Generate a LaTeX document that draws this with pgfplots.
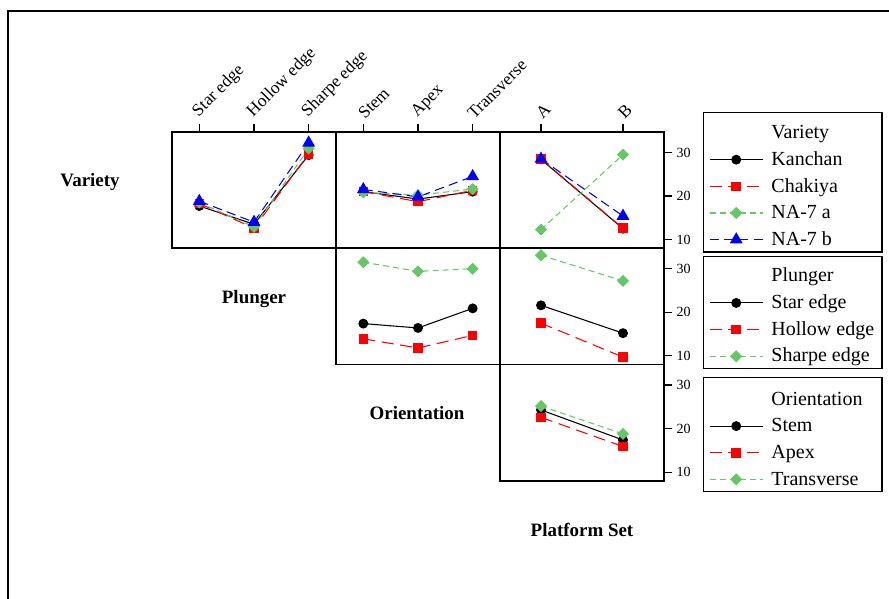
\documentclass[border=0pt]{standalone}
\usepackage{fontspec}
\setmainfont{Liberation Serif}
\usepackage{pgfplots}
\pgfplotsset{compat=1.18}
\definecolor{mgreen}{RGB}{100,200,100}
\pgfplotsset{
  panel/.style={scale only axis, width=123pt, height=87.2pt, anchor=north west,
    ymin=8, ymax=34.7, axis line style={line width=1.2pt},
    tick style={line width=1pt, black}, major tick length=6pt, tick align=outside,
    xtick=\empty, ytick=\empty,
    font=\fontsize{10.5}{12}\selectfont,
    /pgf/number format/assume math mode=true,
    legend image code/.code={\draw[mark repeat=2,mark phase=2] plot coordinates {(0pt,0pt) (20pt,0pt) (40pt,0pt)};},
    legend cell align=left,
    legend style={draw=black, line width=1pt, anchor=north west,
      font=\fontsize{15}{17}\selectfont,
      nodes={inner sep=1pt, text height=11pt, text depth=2.5pt},
      row sep=4.5pt, column sep=5pt, inner xsep=4pt, inner ysep=1.5pt}},
  topx/.style={xtick pos=right, xticklabel pos=right,
    xticklabel style={rotate=45, anchor=south west, inner sep=1pt, xshift=2pt,
      font=\fontsize{13}{15}\selectfont}},
  righty/.style={ytick={10,20,30}, ytick pos=right, yticklabel pos=right},
  sK/.style={black, solid, line width=0.8pt, mark=*, mark size=3.3pt},
  sC/.style={red, dash pattern=on 9pt off 5pt, line width=0.8pt, mark=square*, mark size=3.2pt, mark options={solid}},
  sG/.style={mgreen, dash pattern=on 4.5pt off 3pt, line width=0.8pt, mark=square*, mark size=2.8pt, mark options={solid, rotate=45}},
  sB/.style={blue, dash pattern=on 7pt off 4pt, line width=0.8pt, mark=triangle*, mark size=4.8pt, mark options={solid}},
}
\begin{document}
\begin{tikzpicture}
\useasboundingbox (0,0) rectangle (666.75pt,-449.25pt);
\draw[line width=1.5pt] (6pt,-449.25pt) -- (6pt,-8.25pt) -- (666.75pt,-8.25pt);

% Row 1, col 1: Variety lines vs Plunger
\begin{axis}[panel, topx, at={(129pt,-99pt)}, xmin=0.5, xmax=3.5,
  xtick={1,2,3}, xticklabels={Star edge, Hollow edge, Sharpe edge}]
\addplot[sK] coordinates {(1,17.7) (2,13.5) (3,29.4)};
\addplot[sC] coordinates {(1,18.3) (2,12.6) (3,29.7)};
\addplot[sG] coordinates {(1,18.5) (2,12.9) (3,30.9)};
\addplot[sB] coordinates {(1,18.8) (2,14.0) (3,32.2)};
\end{axis}

% Row 1, col 2: Variety lines vs Orientation
\begin{axis}[panel, topx, at={(252pt,-99pt)}, xmin=0.5, xmax=3.5,
  xtick={1,2,3}, xticklabels={Stem, Apex, Transverse}]
\addplot[sK] coordinates {(1,21.0) (2,19.3) (3,21.0)};
\addplot[sC] coordinates {(1,21.0) (2,18.7) (3,21.3)};
\addplot[sG] coordinates {(1,20.8) (2,20.2) (3,21.6)};
\addplot[sB] coordinates {(1,21.5) (2,19.8) (3,24.5)};
\end{axis}

% Row 1, col 3: Variety lines vs Platform Set
\begin{axis}[panel, topx, righty, at={(375pt,-99pt)}, xmin=0.5, xmax=2.5,
  xtick={1,2}, xticklabels={A, B},
  legend style={at={(1.238,1.172)}}]
\addlegendimage{empty legend}\addlegendentry[text height=17pt]{\makebox[78pt][l]{Variety}}
\addplot[sK] coordinates {(1,28.4) (2,12.5)};\addlegendentry{Kanchan}
\addplot[sC] coordinates {(1,28.5) (2,12.6)};\addlegendentry{Chakiya}
\addplot[sG] coordinates {(1,12.3) (2,29.5)};\addlegendentry{NA-7 a}
\addplot[sB] coordinates {(1,28.5) (2,15.4)};\addlegendentry{NA-7 b}
\end{axis}

% Row 2, col 2: Plunger lines vs Orientation
\begin{axis}[panel, at={(252pt,-186.2pt)}, xmin=0.5, xmax=3.5]
\addplot[sK] coordinates {(1,17.4) (2,16.4) (3,20.9)};
\addplot[sC] coordinates {(1,13.9) (2,11.8) (3,14.7)};
\addplot[sG] coordinates {(1,31.5) (2,29.4) (3,30.0)};
\end{axis}

% Row 2, col 3: Plunger lines vs Platform Set
\begin{axis}[panel, righty, at={(375pt,-186.2pt)}, xmin=0.5, xmax=2.5,
  legend style={at={(1.238,0.934)}}]
\addlegendimage{empty legend}\addlegendentry[text height=16.5pt]{\makebox[78pt][l]{Plunger}}
\addplot[sK] coordinates {(1,21.6) (2,15.2)};\addlegendentry{Star edge}
\addplot[sC] coordinates {(1,17.5) (2,9.7)};\addlegendentry{Hollow edge}
\addplot[sG] coordinates {(1,33.1) (2,27.2)};\addlegendentry{Sharpe edge}
\end{axis}

% Row 3, col 3: Orientation lines vs Platform Set
\begin{axis}[panel, righty, at={(375pt,-273.5pt)}, xmin=0.5, xmax=2.5,
  legend style={at={(1.238,0.893)}}]
\addlegendimage{empty legend}\addlegendentry[text height=18pt]{\makebox[78pt][l]{Orientation}}
\addplot[sK] coordinates {(1,24.3) (2,17.4)};\addlegendentry{Stem}
\addplot[sC] coordinates {(1,22.6) (2,15.9)};\addlegendentry{Apex}
\addplot[sG] coordinates {(1,25.2) (2,18.8)};\addlegendentry{Transverse}
\end{axis}

\begin{scope}[font=\fontsize{14.2}{16}\selectfont\bfseries]
\node at (67.5pt,-136.5pt) {Variety};
\node at (190.5pt,-224pt) {Plunger};
\node at (312.75pt,-310pt) {Orientation};
\node at (436.5pt,-397.5pt) {Platform Set};
\end{scope}
\end{tikzpicture}
\end{document}
